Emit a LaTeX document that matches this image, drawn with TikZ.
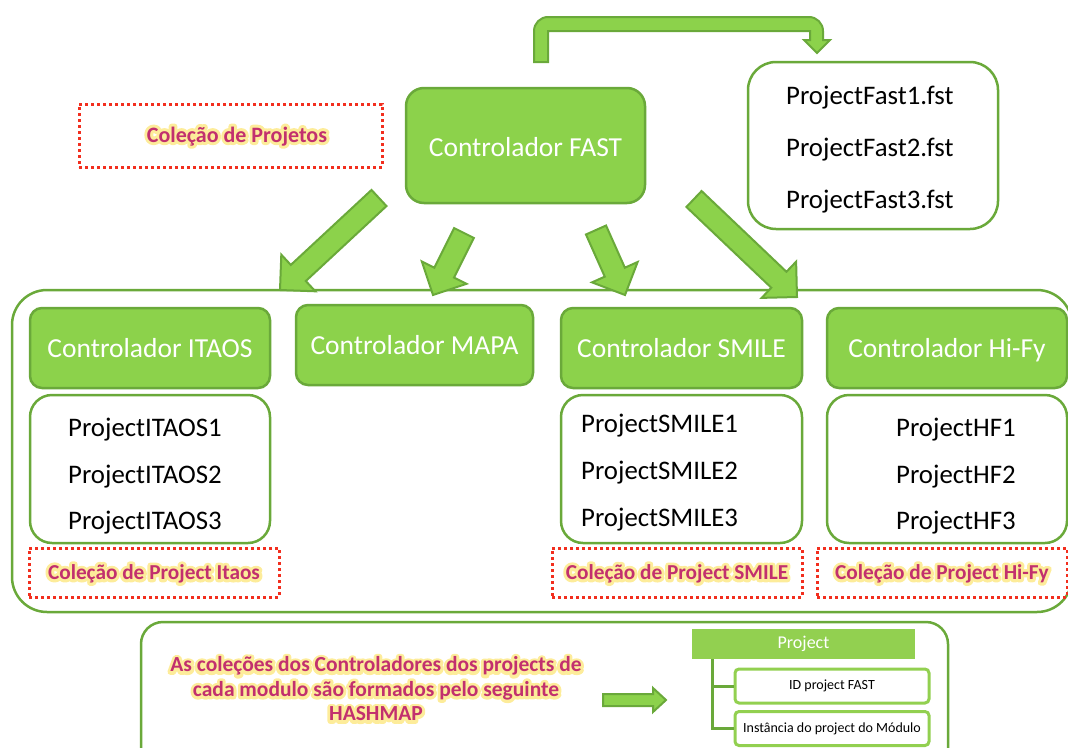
\documentclass[tikz,border=0pt]{standalone}
\usepackage{fontspec}
\setmainfont{Carlito}
\usetikzlibrary{calc}

\definecolor{gfill}{HTML}{8CD24B}
\definecolor{gline}{HTML}{6AA93A}
\definecolor{glight}{HTML}{92D050}
\definecolor{dotred}{HTML}{F22E1E}
\definecolor{pink}{HTML}{C2306E}
\definecolor{glowc}{HTML}{FDEC9A}

% soft yellow halo: a stroked copy of the text under the filled text
\newcommand\glowtxt[1]{\leavevmode\rlap{\special{pdf:literal direct 1 Tr 1 j 6 w}\textcolor{glowc}{#1}\special{pdf:literal direct 0 Tr}}#1}

% block arrow: tail, tip, shaft half-width, head half-width, head length
\newcommand\blockarrow[5]{%
  \coordinate (headbase) at ($(#2)!#5!(#1)$);
  \draw[barrow] ($(#1)!#3!90:(#2)$) -- ($(headbase)!#3!90:(#2)$) -- ($(headbase)!#4!90:(#2)$)
    -- (#2) -- ($(headbase)!#4!-90:(#2)$) -- ($(headbase)!#3!-90:(#2)$) -- ($(#1)!#3!-90:(#2)$) -- cycle;}

\begin{document}
\begin{tikzpicture}[x=1pt,y=-1pt,
  ctrl/.style={draw=gline, fill=gfill, line width=2.5pt, rounded corners=12pt, text=white,
    font=\fontsize{27.5}{31}\selectfont, text height=19.5pt, text depth=0pt, inner sep=0pt},
  listbox/.style={draw=gline, fill=white, line width=2.5pt, rounded corners=22pt, inner sep=0pt},
  item/.style={anchor=base west, font=\fontsize{26.8}{30}\selectfont, inner sep=0pt},
  dotbox/.style={draw=dotred, line width=3pt, dash pattern=on 3pt off 3pt, inner sep=0pt,
    text=pink, font=\bfseries\fontsize{21.3}{25}\selectfont, text height=13.7pt, text depth=0pt},
  glowlabel/.style={text=pink, font=\bfseries\fontsize{22}{25}\selectfont, inner sep=0pt},
  frame/.style={draw=gline, line width=2.5pt, rounded corners=35pt, inner sep=0pt},
  barrow/.style={draw=gline, fill=gfill, line width=2pt, line join=miter},
  tree/.style={draw=gline, line width=3pt},
  slot/.style={draw=glight, fill=white, line width=3pt, rounded corners=4pt,
    font=\fontsize{14}{16}\selectfont, inner sep=0pt, minimum width=194pt, minimum height=34pt},
]
\useasboundingbox (0,0) rectangle (1068,747);

% top level controller and its file list
\node[ctrl, rounded corners=18pt, minimum width=239pt, minimum height=115pt, text height=22.5pt]
  (fast) at (525.5,145.5) {Controlador FAST};
\node[listbox, rounded corners=28pt, minimum width=250pt, minimum height=167pt] (files) at (873,145.5) {};
\node[item] (f1) at (786,104) {ProjectFast1.fst};
\node[item] (f2) at (786,156) {ProjectFast2.fst};
\node[item] (f3) at (786,208) {ProjectFast3.fst};

\node[dotbox, minimum width=303pt, minimum height=63pt] (coll) at (230.5,135.5) {};
\node[glowlabel, anchor=base] (collT) at (237,142) {\glowtxt{Coleção de Projetos}};

% bent arrow from the controller to its files
\coordinate (bs) at (541,62);
\coordinate (bt) at (817,53);
\draw[barrow] ($(bs)+(-7,0)$) -- ($(bs)+(-7,-31)$) arc[start angle=180, end angle=270, radius=14]
  -- ($(bt)+(-8,-36)$) arc[start angle=270, end angle=360, radius=14]
  -- ($(bt)+(6,-13)$) -- ($(bt)+(13,-13)$) -- (bt) -- ($(bt)+(-13,-13)$) -- ($(bt)+(-7,-13)$)
  -- ($(bt)+(-7,-22)$) -- ($(bs)+(7,-31)$) -- ($(bs)+(7,0)$) -- cycle;

% module group
\node[frame, minimum width=1060pt, minimum height=322pt] (group) at (542,451) {};

\node[ctrl, minimum width=240pt, minimum height=80pt] (itaosC) at (150,348) {Controlador ITAOS};
\node[ctrl, minimum width=237pt, minimum height=80pt] (mapaC) at (414.5,345) {Controlador MAPA};
\node[ctrl, minimum width=241pt, minimum height=80pt] (smileC) at (681.5,348) {Controlador SMILE};
\node[ctrl, minimum width=240pt, minimum height=80pt] (hifyC) at (947,348) {Controlador Hi-Fy};

\node[listbox, minimum width=240pt, minimum height=148pt] (itaosP) at (150,469) {};
\node[listbox, minimum width=241pt, minimum height=148pt] (smileP) at (681.5,469) {};
\node[listbox, minimum width=240pt, minimum height=148pt] (hifyP) at (947,469) {};

\node[item] (i1) at (68,436) {ProjectITAOS1};
\node[item] (i2) at (68,483) {ProjectITAOS2};
\node[item] (i3) at (68,529) {ProjectITAOS3};
\node[item] (s1) at (581,432) {ProjectSMILE1};
\node[item] (s2) at (581,479) {ProjectSMILE2};
\node[item] (s3) at (581,526) {ProjectSMILE3};
\node[item] (h1) at (896,436) {ProjectHF1};
\node[item] (h2) at (896,483) {ProjectHF2};
\node[item] (h3) at (896,529) {ProjectHF3};

\node[dotbox, minimum width=250pt, minimum height=49pt] (itaosD) at (154,572.5) {\glowtxt{Coleção de Project Itaos}};
\node[dotbox, minimum width=250pt, minimum height=49pt] (smileD) at (677,572.5) {\glowtxt{Coleção de Project SMILE}};
\node[dotbox, minimum width=250pt, minimum height=49pt] (hifyD) at (942,572.5) {\glowtxt{Coleção de Project Hi-Fy}};

% arrows from the top controller down to the group
\coordinate (t1) at (379,198); \coordinate (e1) at (280,290);
\coordinate (t2) at (464,233); \coordinate (e2) at (433,295);
\coordinate (t3) at (596,230); \coordinate (e3) at (625,295);
\coordinate (t4) at (694,199); \coordinate (e4) at (797,297);
\blockarrow{t1}{e1}{11pt}{25pt}{25pt}
\blockarrow{t2}{e2}{11pt}{25pt}{25pt}
\blockarrow{t3}{e3}{11pt}{25pt}{25pt}
\blockarrow{t4}{e4}{11pt}{25pt}{25pt}

% hashmap legend
\node[frame, rounded corners=22pt, minimum width=807pt, minimum height=150pt] (legend) at (544.5,697) {};
\node[align=center, text=pink, font=\bfseries\fontsize{21.5}{24.5}\selectfont, inner sep=0pt] (note) at (376,689)
  {\glowtxt{As coleções dos Controladores dos projects de}\\ \glowtxt{cada modulo são formados pelo seguinte}\\ \glowtxt{HASHMAP}};

\coordinate (la) at (603,700); \coordinate (lb) at (666,700);
\blockarrow{la}{lb}{6pt}{12pt}{13pt}

\node[fill=glight, text=white, font=\fontsize{18}{20}\selectfont, inner sep=0pt,
  minimum width=223pt, minimum height=30pt] (proj) at (803.5,644) {Project};
\node[slot] (idb) at (832,686) {ID project FAST};
\node[slot] (inst) at (832,728.5) {Instância do project do Módulo};
\draw[tree] ($(proj.south west)+(21,0)$) |- (inst.west);
\draw[tree] ($(proj.south west)+(21,0)$) |- (idb.west);
\end{tikzpicture}
\end{document}
